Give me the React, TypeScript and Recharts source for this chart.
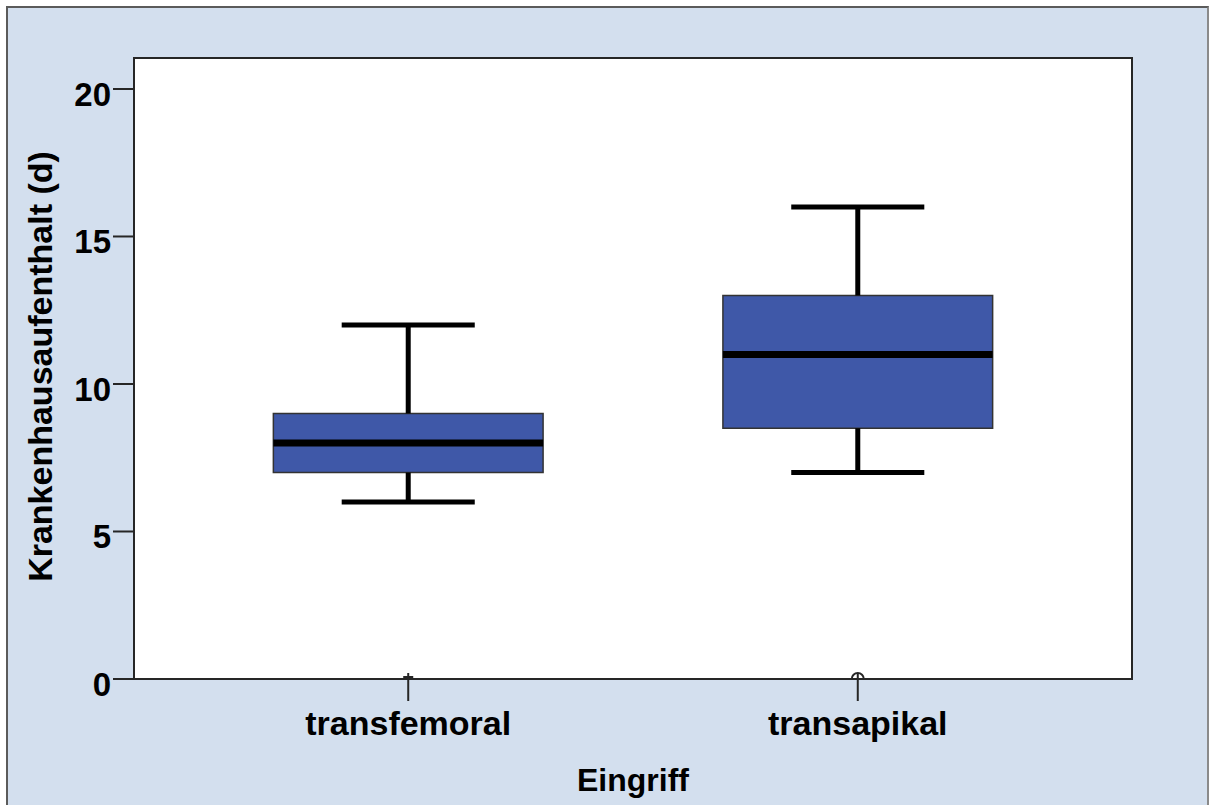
import {
  ComposedChart,
  XAxis,
  YAxis,
  Scatter,
  ReferenceArea,
  ReferenceLine,
} from "recharts";

const categories = ["transfemoral", "transapikal"];
const whiskerLow = [6, 7];
const quartile1 = [7, 8.5];
const medians = [8, 11];
const quartile3 = [9, 13];
const whiskerHigh = [12, 16];
const outlierValues = [0, 0];
const outlierShapes = ["cross", "circle"];
const yTicks = [0, 5, 10, 15, 20];

const FONT = '"Liberation Sans", Arial, sans-serif';
const BOX_FILL = "#3f58a8";
const AXIS = "#262626";

const X_DOMAIN: [number, number] = [0.39, 2.61];
const Y_DOMAIN: [number, number] = [0, 21.05];
const BOX_HALF = 0.3;
const CAP_HALF = 0.148;

const boxes = categories.map((name, i) => ({
  name,
  pos: i + 1,
  low: whiskerLow[i],
  q1: quartile1[i],
  med: medians[i],
  q3: quartile3[i],
  high: whiskerHigh[i],
}));

const outliers = categories.map((name, i) => ({
  name,
  pos: i + 1,
  value: outlierValues[i],
  shape: outlierShapes[i],
}));

function XTick({ x, y, payload }: any) {
  return (
    <g>
      <line x1={x} x2={x} y1={y - 6} y2={y + 22} stroke={AXIS} strokeWidth={2} />
      <text
        x={x}
        y={y + 56}
        textAnchor="middle"
        fontFamily={FONT}
        fontWeight="bold"
        fontSize={34}
        fill="#000"
      >
        {categories[payload.value - 1]}
      </text>
    </g>
  );
}

function YTick({ x, y, payload }: any) {
  return (
    <text
      x={x}
      y={y + 17}
      textAnchor="end"
      fontFamily={FONT}
      fontWeight="bold"
      fontSize={33}
      fill="#000"
    >
      {payload.value}
    </text>
  );
}

function OutlierMark({ cx, cy, payload }: any) {
  if (payload.shape === "circle") {
    return (
      <path
        d={`M ${cx - 6} ${cy} A 6 6 0 0 1 ${cx + 6} ${cy}`}
        fill="none"
        stroke={AXIS}
        strokeWidth={2}
      />
    );
  }
  return <line x1={cx - 5} x2={cx + 5} y1={cy - 2} y2={cy - 2} stroke={AXIS} strokeWidth={2} />;
}

export default function App() {
  return (
    <div style={{ position: "absolute", left: 0, top: 0, width: 1209, height: 805, background: "#fff" }}>
      <div
        style={{
          position: "absolute",
          left: 6,
          top: 6,
          width: 1199,
          height: 805,
          background: "#d3dfee",
          borderTop: "2px solid #5b5b5b",
          borderLeft: "2px solid #5b5b5b",
          borderRight: "2px solid #8a8a8a",
        }}
      />
      <div style={{ position: "absolute", left: 0, top: 0 }}>
        <ComposedChart
          width={1209}
          height={805}
          data={boxes}
          margin={{ top: 58, right: 77, bottom: 0, left: 0 }}
        >
          <XAxis
            dataKey="pos"
            type="number"
            domain={X_DOMAIN}
            ticks={[1, 2]}
            allowDataOverflow
            height={126}
            tickSize={0}
            tickMargin={0}
            tickLine={false}
            axisLine={{ stroke: AXIS, strokeWidth: 2 }}
            tick={<XTick />}
            label={{
              content: ({ viewBox }: any) => (
                <text
                  x={viewBox.x + viewBox.width / 2}
                  y={viewBox.y + 112}
                  textAnchor="middle"
                  fontFamily={FONT}
                  fontWeight="bold"
                  fontSize={32}
                  fill="#000"
                >
                  Eingriff
                </text>
              ),
            }}
          />
          <YAxis
            type="number"
            domain={Y_DOMAIN}
            ticks={yTicks}
            allowDataOverflow
            width={134}
            tickSize={21}
            tickMargin={2}
            tickLine={{ stroke: AXIS, strokeWidth: 2 }}
            axisLine={{ stroke: AXIS, strokeWidth: 2 }}
            tick={<YTick />}
            label={{
              content: ({ viewBox }: any) => {
                const cx = 40;
                const cy = viewBox.y + viewBox.height / 2 - 2;
                return (
                  <text
                    x={cx}
                    y={cy}
                    transform={`rotate(-90 ${cx} ${cy})`}
                    textAnchor="middle"
                    dominantBaseline="central"
                    fontFamily={FONT}
                    fontWeight="bold"
                    fontSize={34}
                    fill="#000"
                  >
                    Krankenhausaufenthalt (d)
                  </text>
                );
              },
            }}
          />

          {/* white plot background with frame */}
          <ReferenceArea
            x1={X_DOMAIN[0]}
            x2={X_DOMAIN[1]}
            y1={Y_DOMAIN[0]}
            y2={Y_DOMAIN[1]}
            fill="#ffffff"
            fillOpacity={1}
            stroke={AXIS}
            strokeWidth={2}
          />

          {boxes.map((b) => (
            <ReferenceLine
              key={`hi-${b.name}`}
              segment={[
                { x: b.pos, y: b.q3 },
                { x: b.pos, y: b.high },
              ]}
              stroke="#000"
              strokeWidth={5}
            />
          ))}
          {boxes.map((b) => (
            <ReferenceLine
              key={`lo-${b.name}`}
              segment={[
                { x: b.pos, y: b.low },
                { x: b.pos, y: b.q1 },
              ]}
              stroke="#000"
              strokeWidth={5}
            />
          ))}
          {boxes.map((b) => (
            <ReferenceLine
              key={`caphi-${b.name}`}
              segment={[
                { x: b.pos - CAP_HALF, y: b.high },
                { x: b.pos + CAP_HALF, y: b.high },
              ]}
              stroke="#000"
              strokeWidth={5}
            />
          ))}
          {boxes.map((b) => (
            <ReferenceLine
              key={`caplo-${b.name}`}
              segment={[
                { x: b.pos - CAP_HALF, y: b.low },
                { x: b.pos + CAP_HALF, y: b.low },
              ]}
              stroke="#000"
              strokeWidth={5}
            />
          ))}
          {boxes.map((b) => (
            <ReferenceArea
              key={`box-${b.name}`}
              x1={b.pos - BOX_HALF}
              x2={b.pos + BOX_HALF}
              y1={b.q1}
              y2={b.q3}
              fill={BOX_FILL}
              fillOpacity={1}
              stroke="#333"
              strokeWidth={1.5}
            />
          ))}
          {boxes.map((b) => (
            <ReferenceLine
              key={`med-${b.name}`}
              segment={[
                { x: b.pos - BOX_HALF, y: b.med },
                { x: b.pos + BOX_HALF, y: b.med },
              ]}
              stroke="#000"
              strokeWidth={7}
            />
          ))}
          <Scatter
            data={outliers}
            dataKey="value"
            shape={<OutlierMark />}
            isAnimationActive={false}
          />
        </ComposedChart>
      </div>
    </div>
  );
}
